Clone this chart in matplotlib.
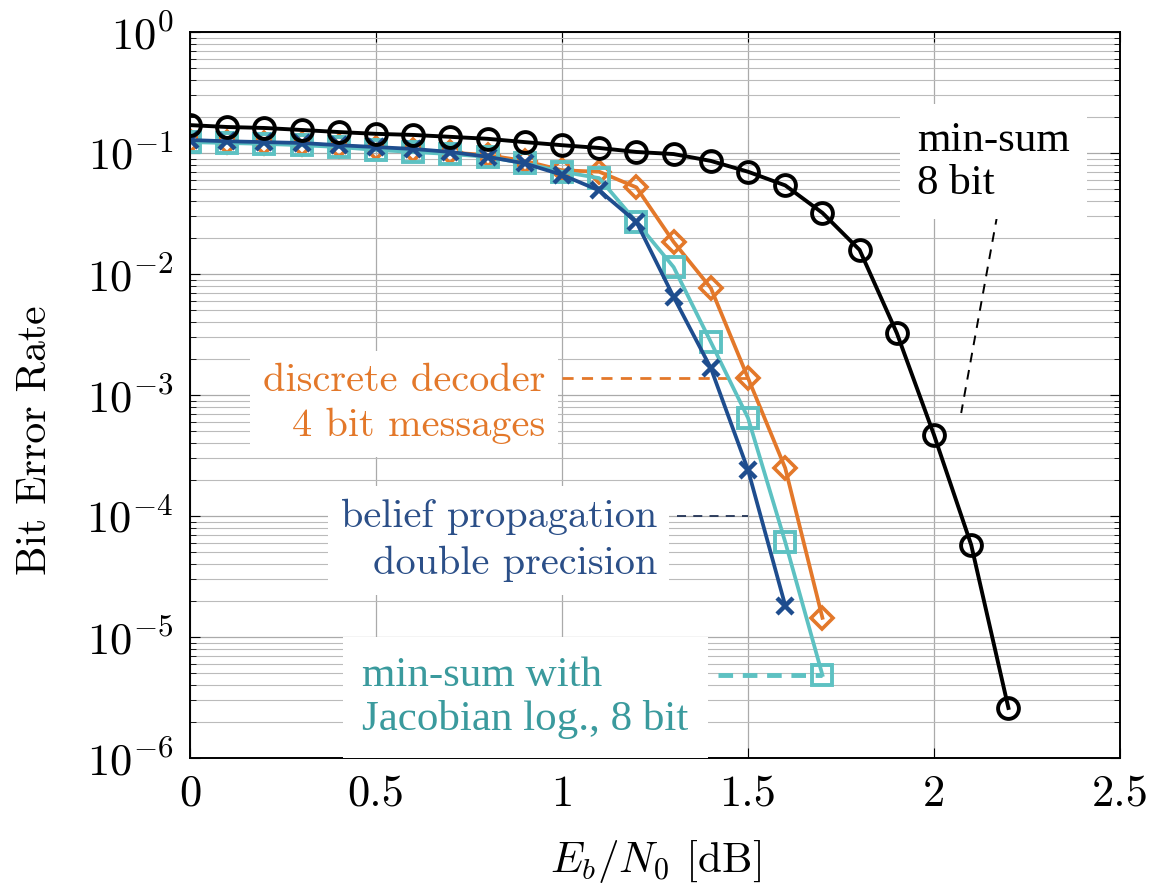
import matplotlib
matplotlib.use("Agg")
import matplotlib.pyplot as plt
from matplotlib.ticker import LogLocator, NullFormatter

plt.rcParams["font.family"] = ["cmr10", "DejaVu Serif"]
plt.rcParams["mathtext.fontset"] = "cm"
plt.rcParams["axes.formatter.use_mathtext"] = True
plt.rcParams["axes.unicode_minus"] = True

snr = [round(0.1 * i, 1) for i in range(23)]

ber_minsum8 = [0.170, 0.164, 0.161, 0.155, 0.149, 0.144, 0.141, 0.136, 0.131, 0.123,
               0.116, 0.110, 0.102, 0.098, 0.086, 0.070, 0.054, 0.032, 0.0158, 0.00325,
               4.67e-4, 5.76e-5, 2.59e-6]
ber_bp = [0.128, 0.125, 0.123, 0.121, 0.116, 0.112, 0.108, 0.102, 0.093, 0.082,
          0.066, 0.049, 0.0269, 0.00646, 0.00167, 2.40e-4, 1.82e-5]
ber_jacobian = [0.123, 0.121, 0.119, 0.116, 0.112, 0.106, 0.102, 0.098, 0.093, 0.082,
                0.070, 0.062, 0.0269, 0.0114, 0.00274, 6.46e-4, 6.1e-5, 4.85e-6]
ber_discrete = [0.125, 0.123, 0.121, 0.119, 0.115, 0.110, 0.106, 0.101, 0.096, 0.086,
                0.072, 0.070, 0.052, 0.0184, 0.00766, 0.00138, 2.49e-4, 1.44e-5]

xticks = [0, 0.5, 1, 1.5, 2, 2.5]
xtick_labels = ["0", "0.5", "1", "1.5", "2", "2.5"]

c_orange = "#E3782A"
c_cyan = "#5DC1C2"
c_cyan_txt = "#3A9A9D"
c_blue = "#1E4D8E"
c_blue_txt = "#2B4F88"

fig = plt.figure(figsize=(11.53, 8.89), dpi=100)
ax = fig.add_axes([0.1648, 0.1474, 0.8066, 0.8166])

ax.plot(snr[:len(ber_discrete)], ber_discrete, color=c_orange, lw=2.7,
        marker="D", ms=11, mfc="none", mew=2.6)
ax.plot(snr[:len(ber_jacobian)], ber_jacobian, color=c_cyan, lw=2.7,
        marker="s", ms=14, mfc="none", mew=2.8)
ax.plot(snr[:len(ber_bp)], ber_bp, color=c_blue, lw=2.7,
        marker="x", ms=11, mew=3.2)
ax.plot(snr, ber_minsum8, color="black", lw=2.8,
        marker="o", ms=15, mfc="none", mew=2.8)

ax.set_yscale("log")
ax.set_xlim(0, 2.5)
ax.set_ylim(1e-6, 1)
ax.set_xticks(xticks)
ax.set_xticklabels(xtick_labels)
ax.yaxis.set_major_locator(LogLocator(base=10, numticks=10))
ax.yaxis.set_minor_locator(LogLocator(base=10, subs=range(2, 10), numticks=20))
ax.yaxis.set_minor_formatter(NullFormatter())
ax.tick_params(axis="both", which="both", direction="in", top=True, right=True,
               labelsize=32, pad=12)
ax.tick_params(axis="both", which="major", length=7)
ax.tick_params(axis="y", which="minor", length=4)
ax.grid(True, which="major", color="#AAAAAA", lw=0.9)
ax.grid(True, which="minor", axis="y", color="#BBBBBB", lw=0.8)
ax.set_axisbelow(True)
for sp in ax.spines.values():
    sp.set_linewidth(1.4)

ax.set_xlabel(r"$E_b/N_0$ [dB]", fontsize=31, labelpad=17)
ax.set_ylabel("Bit Error Rate", fontsize=30)
ax.yaxis.set_label_coords(-0.146, 0.438)

# leader lines from the labels to the curves
ax.plot([1.0, snr[15]], [ber_discrete[15]] * 2, color=c_orange, lw=2.0,
        ls=(0, (4, 3)), zorder=1.5)
ax.plot([1.31, 1.5], [1.0e-4, 1.0e-4], color="#223355", lw=1.3,
        ls=(0, (5, 4)), zorder=1.5)
ax.plot([1.42, snr[17]], [ber_jacobian[17]] * 2, color=c_cyan, lw=3.5,
        ls=(0, (3, 2)), zorder=1.5)
ax.plot([2.17, 2.073], [0.0307, 7.1e-4], color="black", lw=1.4,
        ls=(0, (5, 4)), zorder=1.5)

box = dict(facecolor="white", edgecolor="none", pad=9)
ax.text(0.382, 0.488, "discrete decoder\n4 bit messages", transform=ax.transAxes,
        ha="right", va="center", multialignment="right", fontsize=29,
        color=c_orange, linespacing=1.3, bbox=box, zorder=3)
ax.text(0.502, 0.300, "belief propagation\ndouble precision", transform=ax.transAxes,
        ha="right", va="center", multialignment="right", fontsize=29,
        color=c_blue_txt, linespacing=1.4, bbox=box, zorder=3)
ax.text(0.185, 0.083, "min-sum with\nJacobian log., 8 bit", transform=ax.transAxes,
        ha="left", va="center", family="Liberation Serif", fontsize=31,
        color=c_cyan_txt, linespacing=1.15, bbox=dict(facecolor="white",
        edgecolor="none", pad=14), zorder=3)
ax.text(0.782, 0.821, "min-sum\n8 bit", transform=ax.transAxes,
        ha="left", va="center", family="Liberation Serif", fontsize=31,
        color="black", linespacing=1.15, bbox=dict(facecolor="white",
        edgecolor="none", pad=12), zorder=3)

fig.savefig("out.png", dpi=100)
